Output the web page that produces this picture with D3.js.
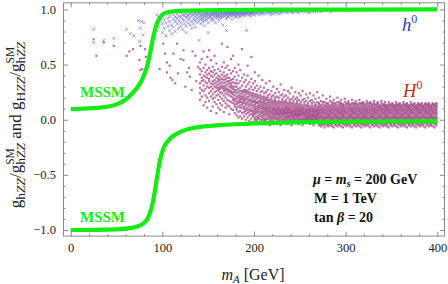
<!DOCTYPE html>
<html>
<head>
<meta charset="utf-8">
<script src="https://cdn.jsdelivr.net/npm/d3@7"></script>
<style>
  html, body { margin: 0; padding: 0; background: #fff; }
  svg { display: block; }
</style>
</head>
<body>
<svg id="chart" width="448" height="284"></svg>
<script>
/* ------------------------------------------------------------
   Data
   ------------------------------------------------------------ */
const xTicks = [0, 100, 200, 300, 400];
const xTickLabels = ['0', '100', '200', '300', '400'];
const yTicks = [-1.0, -0.5, 0.0, 0.5, 1.0];
const yTickLabels = ['\u22121.0', '\u22120.5', '0.0', '0.5', '1.0'];

// green MSSM curves
const upperCurveMA = [0, 32, 50, 61, 70, 77.5, 83, 86.5, 90, 94, 99, 105, 123, 196, 300, 400];
const upperCurveG  = [0.096, 0.109, 0.139, 0.19, 0.266, 0.357, 0.477, 0.598, 0.749, 0.87, 0.945, 0.975, 0.99, 0.997, 0.999, 1.0];
const lowerCurveMA = [0, 50, 68, 79, 84.7, 88.4, 92, 94.5, 97.4, 101, 106.5, 115.7, 130, 159, 196, 261, 330, 400];
const lowerCurveG  = [-1.0, -0.994, -0.979, -0.943, -0.883, -0.792, -0.64, -0.505, -0.369, -0.263, -0.188, -0.127, -0.082, -0.052, -0.036, -0.022, -0.016, -0.013];

// scan points. Loose ones are [mA, g]; columns are [mA, [g x 100, ...]]
const lightLoose = [[25, 0.82], [25, 0.70], [36, 0.72], [47, 0.74], [61, 0.82], [65, 0.78], [69, 0.76],
  [74, 0.90], [77, 0.89], [80, 0.88], [76, 0.83], [75, 0.71], [79, 0.77], [94, 0.95]];
const lightCols = [
  [96, [93, 84]], [98, [90]], [100, [95, 79, 87]], [102, [83, 91]], [104, [96, 76, 88]], [106, [92, 85]],
  [108, [97, 81, 89, 94]], [110, [86, 78]], [112, [98, 91, 84, 95]], [114, [89, 93, 80]], [116, [96, 87, 92, 99]],
  [118, [83, 94, 90]], [120, [97, 88, 93, 85, 98]], [122, [91, 95, 82]], [124, [99, 87, 94, 90, 96]],
  [126, [93, 85, 97, 79]], [128, [95, 91, 98, 88, 94]], [130, [96, 86, 92, 99]], [132, [94, 97, 89, 83, 98]],
  [134, [91, 95, 99, 87]], [136, [97, 93, 90, 96, 84, 98]], [138, [95, 88, 99, 92]], [140, [96, 93, 97, 72, 90, 98]],
  [142, [94, 99, 91, 87, 96]], [144, [97, 95, 92, 98, 89, 93]], [146, [99, 94, 96, 90, 85]],
  [148, [96, 98, 93, 95, 91, 97]], [150, [95, 99, 92, 88, 97, 79]], [152, [98, 94, 96, 93, 99]],
  [154, [97, 92, 95, 99, 90, 96]], [156, [94, 98, 96, 91, 97]], [158, [99, 95, 93, 97, 88, 96]],
  [160, [97, 94, 99, 92, 95, 98]], [162, [96, 98, 93, 95, 90]], [164, [99, 97, 94, 96, 92, 98]],
  [166, [95, 98, 97, 93, 99, 86]], [168, [98, 96, 94, 99, 97]], [170, [97, 99, 95, 92, 96, 81]],
  [172, [98, 96, 99, 94, 97, 93]], [174, [99, 97, 95, 98, 96]], [176, [98, 96, 99, 94, 97, 91]],
  [178, [97, 99, 95, 98, 96]], [180, [99, 98, 96, 94, 97, 93]], [182, [98, 99, 97, 95, 96]],
  [184, [99, 97, 98, 95, 93]], [186, [98, 99, 96, 97, 94]], [188, [99, 98, 97, 95, 96]],
  [190, [98, 99, 97, 96, 94]], [192, [99, 98, 96, 97, 81]], [194, [98, 99, 97, 95]], [196, [99, 98, 97, 96, 94]],
  [198, [98, 99, 96, 97]], [200, [99, 98, 97, 95]], [203, [98, 99, 96, 97]], [206, [99, 98, 97, 95]],
  [209, [98, 99, 97, 96]], [212, [99, 98, 96]], [215, [98, 99, 97]], [218, [99, 98, 97, 95]], [221, [98, 99, 96]],
  [224, [99, 98, 97]], [227, [98, 99, 96]], [230, [99, 98, 97]], [233, [98, 99]], [236, [99, 98, 97]],
  [239, [98, 99]], [242, [99, 98, 97]], [245, [98, 99]], [248, [99, 98, 97]], [252, [98, 99]], [256, [99, 98]],
  [260, [98, 99, 97]], [264, [99, 98]], [268, [99, 98]], [273, [99, 98]], [278, [99]], [284, [99, 98]],
  [290, [99]], [298, [99]], [306, [99]], [316, [99]]
];

const heavyLoose = [[25, 0.73], [28, 0.58], [36, 0.70], [47, 0.67], [61, 0.58], [64, 0.62], [68, 0.64],
  [76, 0.67], [75, 0.54], [76, 0.45], [78, 0.46], [82, 0.57], [81, 0.64],
  [97, 0.46], [101, 0.69], [103, 0.60], [105, 0.43], [105, 0.52], [108, 0.49], [109, 0.38], [111, 0.36],
  [112, 0.60], [114, 0.33], [116, 0.69], [117, 0.42], [120, 0.55], [123, 0.54], [123, 0.63], [125, 0.30],
  [127, 0.43], [129, 0.47], [130, 0.39], [132, 0.27], [133, 0.62], [136, 0.58], [137, 0.35], [139, 0.48]];
const heavyCols = [
  [141, [52, 41, 33, 24, 46, 18, 29]], [143, [38, 55, 27, 44, 21, 35]], [145, [62, 47, 31, 40, 26, 13, 36]],
  [147, [39, 50, 28, 34, 43, 22, 16]], [149, [57, 45, 33, 11, 38, 20, 41, 30]],
  [151, [63, 42, 35, 29, 24, 47, 17, 37]], [153, [54, 44, 8, 30, 26, 40, 21, 33]],
  [155, [48, 39, 32, 28, 43, 23, 35, 19, 12]], [157, [58, 45, 36, 30, 25, 41, 20, 33, 16]],
  [159, [51, 42, 34, 29, 38, 22, 26, 14, 31, 6]], [161, [37, 46, 32, 27, 40, 23, 35, 18, 29, 11]],
  [163, [44, 39, 33, 28, 36, 21, 25, 15, 30, 9]], [165, [69, 48, 41, 34, 29, 24, 37, 19, 31, 13]],
  [167, [52, 43, 36, 30, 26, 39, 22, 33, 17, 28, 7]], [169, [47, 40, 34, 29, 24, 37, 20, 31, 15, 27, 11]],
  [171, [66, 49, 41, 35, 28, 23, 32, 18, 26, 13, 38]], [173, [45, 38, 33, 27, 22, 30, 17, 25, 12, 35, 5]],
  [175, [55, 42, 36, 31, 26, 21, 29, 16, 24, 10, 33]], [177, [58, 44, 37, 30, 25, 20, 28, 15, 23, 9, 34, 18]],
  [179, [47, 39, 33, 27, 22, 30, 17, 25, 12, 19, 6, 14]], [181, [43, 36, 30, 24, 19, 27, 14, 21, 9, 16, 4, 11, 33]],
  [183, [50, 40, 33, 28, 22, 17, 25, 12, 20, 7, 15, 2]], [185, [45, 35, 29, 23, 18, 26, 13, 21, 8, 16, 3, 11, 19]],
  [187, [64, 38, 31, 26, 21, 16, 24, 11, 19, 6, 14, 1]], [189, [41, 34, 27, 22, 17, 25, 12, 20, 7, 15, 3, 10, 18]],
  [191, [36, 30, 25, 20, 15, 23, 10, 18, 5, 13, 0, 8, 27]], [193, [49, 40, 32, 26, 21, 16, 24, 11, 19, 6, 14, 2, 9]],
  [195, [34, 28, 23, 18, 14, 21, 9, 17, 4, 12, -1, 7, 25]], [197, [57, 37, 30, 24, 19, 15, 22, 10, 17, 5, 13, 1, 8]],
  [199, [33, 27, 22, 17, 13, 20, 8, 16, 4, 11, -2, 6, 24, 3]],
  [201, [43, 35, 29, 23, 18, 14, 21, 9, 16, 5, 12, 0, 7, 10, 2]], [203, [31, 26, 21, 16, 12, 19, 8, 15, 3, 10, -1, 6, 23, 1]],
  [205, [40, 28, 22, 17, 13, 20, 9, 15, 4, 11, 1, 7, 12, 2, -3]], [207, [30, 25, 20, 16, 12, 18, 7, 14, 3, 10, -2, 5, 22, 0]],
  [209, [36, 26, 21, 16, 12, 19, 8, 14, 4, 10, 0, 6, 11, 2]], [211, [29, 24, 19, 15, 11, 17, 7, 13, 3, 9, -1, 5, 21, 1]],
  [213, [33, 25, 20, 15, 11, 18, 8, 13, 4, 9, 0, 6, 10, 1, -4]], [215, [27, 22, 18, 14, 10, 16, 6, 12, 3, 8, -2, 5, 20, 1]],
  [217, [35, 23, 18, 14, 10, 16, 7, 12, 3, 8, 0, 5, 11, 2, -5]], [219, [26, 21, 17, 13, 9, 15, 6, 11, 2, 7, -1, 4, 19, 1]],
  [221, [30, 22, 17, 13, 9, 15, 6, 11, 3, 8, 0, 5, 10, 2, -3]], [223, [24, 20, 16, 12, 9, 14, 5, 10, 2, 7, -2, 4, 18, 1]],
  [225, [28, 21, 16, 12, 8, 14, 6, 10, 3, 7, 0, 5, 9, 1, -4]], [227, [25, 20, 15, 11, 8, 13, 5, 10, 2, 6, -1, 4, 17, 1]],
  [229, [32, 22, 16, 12, 8, 14, 6, 10, 3, 7, 0, 5, 9, 2, -5]], [231, [23, 19, 15, 11, 8, 13, 5, 9, 2, 6, -2, 4, 17, 0]],
  [233, [27, 21, 16, 12, 8, 14, 6, 10, 3, 7, 0, 5, 9, 1, -3]], [235, [22, 18, 14, 11, 7, 12, 5, 9, 2, 6, -1, 3, 16, 1]],
  [237, [26, 20, 15, 11, 8, 13, 6, 9, 3, 7, 0, 4, 10, 2, -4]], [239, [24, 18, 14, 10, 7, 12, 4, 9, 2, 6, -2, 3, 16, 0]],
  [241, [29, 19, 15, 11, 7, 13, 5, 9, 3, 6, 0, 4, 8, 1, -5]], [243, [21, 17, 13, 10, 7, 12, 4, 8, 2, 5, -1, 3, 15, 1]],
  [245, [25, 19, 14, 10, 7, 12, 5, 9, 3, 6, 0, 4, 8, 1, -3]], [247, [20, 17, 13, 10, 6, 11, 4, 8, 2, 5, -2, 3, 15, 0]],
  [249, [24, 18, 14, 10, 7, 12, 5, 8, 3, 6, 0, 4, 9, 1, -4]], [251, [22, 16, 12, 9, 6, 11, 4, 8, 1, 5, -1, 3, 14, 0]],
  [253, [26, 18, 13, 10, 7, 11, 5, 8, 2, 6, 0, 4, 9, 1, -5]], [255, [19, 16, 12, 9, 6, 10, 4, 7, 1, 5, -2, 3, 14, 0]],
  [257, [23, 17, 13, 9, 6, 11, 4, 8, 2, 5, 0, 3, 8, 1, -3]], [259, [20, 15, 12, 9, 6, 10, 3, 7, 1, 4, -1, 2, 13, 0]],
  [261, [24, 17, 12, 9, 6, 10, 4, 8, 2, 5, 0, 3, 8, 1, -4]], [263, [18, 15, 11, 8, 5, 10, 3, 7, 1, 4, -2, 2, 13, 0]],
  [265, [22, 16, 12, 9, 6, 10, 4, 7, 2, 5, 0, 3, 8, 1, -5]], [267, [19, 14, 11, 8, 5, 9, 3, 7, 1, 4, -1, 2, 13, 0]],
  [269, [25, 16, 12, 9, 6, 10, 4, 7, 2, 5, 0, 3, 8, 1, -3]],
  [271, [20, 15, 11, 8, 5, 3, 1, -1, -3, 12, 6, 9, -5, 14, 2]], [273, [17, 12, 9, 7, 4, 2, 0, -2, -4, 10, 6, 13, -6, 3]],
  [275, [22, 14, 10, 8, 6, 3, 1, -1, -3, 11, 5, 16, -5, 2, 8]], [277, [16, 13, 9, 6, 4, 2, 0, -2, -4, 10, 7, 12, -7, 1]],
  [279, [19, 14, 11, 8, 5, 3, 1, -1, -3, 12, 6, 9, -5, 15, 2]], [281, [15, 12, 9, 7, 4, 2, 0, -2, -4, 10, 5, 13, -6, 3]],
  [283, [21, 13, 10, 8, 5, 3, 1, -1, -3, 11, 6, 17, -5, 2, 8]], [285, [16, 12, 9, 6, 4, 2, 0, -2, -4, 10, 7, 14, -6, 1]],
  [287, [18, 14, 11, 8, 5, 3, 1, -1, -3, 12, 6, 9, -7, 15, 2]], [289, [15, 12, 9, 7, 4, 2, 0, -2, -4, 10, 5, 13, -5, 3]],
  [291, [20, 13, 10, 8, 5, 3, 1, -1, -3, 11, 6, 16, -6, 2, 8]], [293, [16, 12, 9, 6, 4, 2, 0, -2, -4, 10, 7, 14, -5, 1]],
  [295, [18, 14, 11, 8, 5, 3, 1, -1, -3, 12, 6, 9, -6, 15, 2]], [297, [14, 12, 9, 7, 4, 2, 0, -2, -4, 10, 5, 13, -7, 3]],
  [299, [19, 13, 10, 8, 5, 3, 1, -1, -3, 11, 6, 16, -5, 2, 8]], [301, [15, 12, 9, 6, 4, 2, 0, -2, -4, 10, 7, 14, -6, 1]],
  [303, [17, 14, 11, 8, 5, 3, 1, -1, -3, 12, 6, 9, -5, 15, 2]], [305, [14, 11, 9, 7, 4, 2, 0, -2, -4, 10, 5, 13, -6, 3]],
  [307, [18, 13, 10, 8, 5, 3, 1, -1, -3, 11, 6, 15, -7, 2, 8]], [309, [15, 12, 9, 6, 4, 2, 0, -2, -4, 10, 7, 14, -5, 1]],
  [311, [17, 14, 11, 8, 5, 3, 1, -1, -3, 12, 6, 9, -6, 15, 2]], [313, [14, 11, 9, 7, 4, 2, 0, -2, -4, 10, 5, 13, -5, 3]],
  [315, [18, 13, 10, 8, 5, 3, 1, -1, -3, 11, 6, 15, -6, 2, 8]], [317, [15, 12, 9, 6, 4, 2, 0, -2, -4, 10, 7, 14, -7, 1]],
  [319, [16, 14, 11, 8, 5, 3, 1, -1, -3, 12, 6, 9, -5, 15, 2]], [321, [14, 11, 9, 7, 4, 2, 0, -2, -4, 10, 5, 13, -6, 3]],
  [323, [17, 13, 10, 8, 5, 3, 1, -1, -3, 11, 6, 15, -5, 2, 8]], [325, [15, 12, 9, 6, 4, 2, 0, -2, -4, 10, 7, 13, -6, 1]],
  [327, [16, 14, 11, 8, 5, 3, 1, -1, -3, 12, 6, 9, -7, 15, 2]], [329, [14, 11, 9, 7, 4, 2, 0, -2, -4, 10, 5, 13, -5, 3]],
  [331, [17, 13, 10, 8, 5, 3, 1, -1, -3, 11, 6, 15, -6, 2, 8]], [333, [14, 12, 9, 6, 4, 2, 0, -2, -4, 10, 7, 13, -5, 1]],
  [335, [16, 14, 11, 8, 5, 3, 1, -1, -3, 12, 6, 9, -6, 15, 2]], [337, [13, 11, 9, 7, 4, 2, 0, -2, -4, 10, 5, 12, -7, 3]],
  [339, [17, 13, 10, 8, 5, 3, 1, -1, -3, 11, 6, 15, -5, 2, 8]], [341, [14, 12, 9, 6, 4, 2, 0, -2, -4, 10, 7, 13, -6, 1]],
  [343, [16, 13, 11, 8, 5, 3, 1, -1, -3, 12, 6, 9, -5, 14, 2]], [345, [13, 11, 9, 7, 4, 2, 0, -2, -4, 10, 5, 12, -6, 3]],
  [347, [16, 13, 10, 8, 5, 3, 1, -1, -3, 11, 6, 14, -7, 2, 8]], [349, [14, 12, 9, 6, 4, 2, 0, -2, -4, 10, 7, 13, -5, 1]],
  [351, [15, 13, 11, 8, 5, 3, 1, -1, -3, 12, 6, 9, -6, 14, 2]], [353, [13, 11, 9, 7, 4, 2, 0, -2, -4, 10, 5, 12, -5, 3]],
  [355, [16, 13, 10, 8, 5, 3, 1, -1, -3, 11, 6, 14, -6, 2, 8]], [357, [14, 12, 9, 6, 4, 2, 0, -2, -4, 10, 7, 13, -7, 1]],
  [359, [15, 13, 11, 8, 5, 3, 1, -1, -3, 12, 6, 9, -5, 14, 2]], [361, [13, 11, 9, 7, 4, 2, 0, -2, -4, 10, 5, 12, -6, 3]],
  [363, [16, 13, 10, 8, 5, 3, 1, -1, -3, 11, 6, 14, -5, 2, 8]], [365, [14, 12, 9, 6, 4, 2, 0, -2, -4, 10, 7, 13, -6, 1]],
  [367, [15, 12, 11, 8, 5, 3, 1, -1, -3, 12, 6, 9, -7, 14, 2]], [369, [13, 11, 9, 7, 4, 2, 0, -2, -4, 10, 5, 12, -5, 3]],
  [371, [16, 13, 10, 8, 5, 3, 1, -1, -3, 11, 6, 14, -6, 2, 8]], [373, [14, 12, 9, 6, 4, 2, 0, -2, -4, 10, 7, 13, -5, 1]],
  [375, [15, 12, 11, 8, 5, 3, 1, -1, -3, 12, 6, 9, -6, 14, 2]], [377, [13, 11, 9, 7, 4, 2, 0, -2, -4, 10, 5, 12, -7, 3]],
  [379, [15, 13, 10, 8, 5, 3, 1, -1, -3, 11, 6, 14, -5, 2, 8]], [381, [14, 12, 9, 6, 4, 2, 0, -2, -4, 10, 7, 13, -6, 1]],
  [383, [15, 12, 11, 8, 5, 3, 1, -1, -3, 12, 6, 9, -5, 14, 2]], [385, [13, 11, 9, 7, 4, 2, 0, -2, -4, 10, 5, 12, -6, 3]],
  [387, [15, 13, 10, 8, 5, 3, 1, -1, -3, 11, 6, 14, -7, 2, 8]], [389, [14, 12, 9, 6, 4, 2, 0, -2, -4, 10, 7, 13, -5, 1]],
  [391, [15, 12, 11, 8, 5, 3, 1, -1, -3, 12, 6, 9, -6, 14, 2]], [393, [13, 11, 9, 7, 4, 2, 0, -2, -4, 10, 5, 12, -5, 3]],
  [395, [15, 13, 10, 8, 5, 3, 1, -1, -3, 11, 6, 14, -6, 2, 8]], [397, [14, 12, 9, 6, 4, 2, 0, -2, -4, 10, 7, 13, -7, 1]],
  [399, [15, 12, 11, 8, 5, 3, 1, -1, -3, 12, 6, 9, -5, 14, 2]]
];

/* ------------------------------------------------------------
   Layout
   ------------------------------------------------------------ */
const SERIF = '"Liberation Serif", "Times New Roman", "DejaVu Serif", serif';
const GREEN = '#12ee12';
const FRAME = '#8a8a8a';
const frame = { left: 63, right: 445, top: 2.3, bottom: 236.6 };

const svg = d3.select('#chart');

const x = d3.scaleLinear().domain([-8.4, 408.4]).range([frame.left, frame.right]);
const y = d3.scaleLinear().domain([-1.06, 1.065]).range([frame.bottom, frame.top]);

// columns hold g in hundredths
const flatten = cols => cols.flatMap(([m, gs]) => gs.map(g => [m, g / 100]));
const lightPts = lightLoose.concat(flatten(lightCols));
const heavyPts = heavyLoose.concat(flatten(heavyCols));

svg.append('clipPath').attr('id', 'plotClip')
    .append('rect')
    .attr('x', frame.left).attr('y', frame.top)
    .attr('width', frame.right - frame.left)
    .attr('height', frame.bottom - frame.top);

const plot = svg.append('g').attr('clip-path', 'url(#plotClip)');

// h0 crosses
plot.append('g')
    .selectAll('path')
    .data(lightPts)
    .enter()
    .append('path')
    .attr('d', d => {
        const cx = x(d[0]), cy = y(d[1]), r = 1.6;
        return `M${cx - r},${cy - r}L${cx + r},${cy + r}M${cx - r},${cy + r}L${cx + r},${cy - r}`;
    })
    .attr('stroke', '#6a6ad0')
    .attr('stroke-width', 0.9)
    .attr('stroke-opacity', 0.65)
    .attr('fill', 'none');

// H0 dots
plot.append('g')
    .selectAll('rect')
    .data(heavyPts)
    .enter()
    .append('rect')
    .attr('x', d => x(d[0]) - 1.1)
    .attr('y', d => y(d[1]) - 1.1)
    .attr('width', 2.2)
    .attr('height', 2.2)
    .attr('fill', '#a8508c')
    .attr('fill-opacity', 0.8);

// MSSM curves
const line = d3.line()
    .x(d => x(d[0]))
    .y(d => y(d[1]))
    .curve(d3.curveMonotoneX);

[[upperCurveMA, upperCurveG], [lowerCurveMA, lowerCurveG]].forEach(([ms, gs]) => {
    plot.append('path')
        .datum(ms.map((m, i) => [m, gs[i]]))
        .attr('d', line)
        .attr('fill', 'none')
        .attr('stroke', GREEN)
        .attr('stroke-width', 4.2);
});

// frame + ticks on all four sides (ticks point inward)
svg.append('rect')
    .attr('x', frame.left + 0.5).attr('y', frame.top + 0.5)
    .attr('width', frame.right - frame.left - 1)
    .attr('height', frame.bottom - frame.top - 1)
    .attr('fill', 'none')
    .attr('stroke', FRAME);

const xMinor = d3.range(0, 401, 20).filter(v => v % 100 !== 0);
const yMinor = d3.range(-10, 11).filter(i => i % 5 !== 0).map(i => i / 10);

function styleAxis(g) {
    g.attr('font-family', SERIF).attr('font-size', 12.5);
    g.select('.domain').remove();
    g.selectAll('.tick line').attr('stroke', FRAME);
    g.selectAll('.tick text').attr('fill', '#222');
}

function addAxis(axisFn, scale, transform, major, minor, labels) {
    svg.append('g').attr('transform', transform)
        .call(axisFn(scale).tickValues(major).tickSizeInner(-5).tickSizeOuter(0).tickPadding(7)
            .tickFormat(labels ? (d, i) => labels[i] : ''))
        .call(styleAxis);
    svg.append('g').attr('transform', transform)
        .call(axisFn(scale).tickValues(minor).tickSizeInner(-2.5).tickSizeOuter(0).tickFormat(''))
        .call(styleAxis);
}

addAxis(d3.axisBottom, x, `translate(0,${frame.bottom})`, xTicks, xMinor, xTickLabels);
addAxis(d3.axisTop, x, `translate(0,${frame.top})`, xTicks, xMinor, null);
addAxis(d3.axisLeft, y, `translate(${frame.left},0)`, yTicks, yMinor, yTickLabels);
addAxis(d3.axisRight, y, `translate(${frame.right},0)`, yTicks, yMinor, null);

// x title: m_A [GeV]
const xTitle = svg.append('text')
    .attr('x', 253).attr('y', 280)
    .attr('text-anchor', 'middle')
    .attr('font-family', SERIF)
    .attr('font-size', 16)
    .attr('fill', '#222');
xTitle.append('tspan').attr('font-style', 'italic').text('m');
xTitle.append('tspan').attr('font-style', 'italic').attr('font-size', 11).attr('dy', 3).text('A');
xTitle.append('tspan').attr('dy', -3).text('\u00a0[GeV]');

// y title built from measured pieces, then rotated
const yTitle = svg.append('g').attr('font-family', SERIF).attr('fill', '#222');
const yInner = yTitle.append('g');
const MAIN = 17, SUB = 13.5, SUP = 11.5;
const hZZ = [{ t: 'h' }, { t: 'ZZ', it: true }];
const HZZ = [{ t: 'H' }, { t: 'ZZ', it: true }];
const pieces = [
    { runs: [{ t: 'g' }], size: MAIN, shift: 0 },
    { runs: hZZ, size: SUB, shift: 4 },
    { runs: [{ t: '/' }], size: MAIN, shift: 0 },
    { runs: [{ t: 'g' }], size: MAIN, shift: 0 },
    { runs: [{ t: 'SM' }], size: SUP, shift: -7.5 },
    { runs: hZZ, size: SUB, shift: 4, stack: true },
    { runs: [{ t: '\u00a0and\u00a0' }], size: MAIN, shift: 0 },
    { runs: [{ t: 'g' }], size: MAIN, shift: 0 },
    { runs: HZZ, size: SUB, shift: 4 },
    { runs: [{ t: '/' }], size: MAIN, shift: 0 },
    { runs: [{ t: 'g' }], size: MAIN, shift: 0 },
    { runs: [{ t: 'SM' }], size: SUP, shift: -7.5 },
    { runs: hZZ, size: SUB, shift: 4, stack: true }
];
let cursor = 0, prevX = 0, prevW = 0;
pieces.forEach(p => {
    const t = yInner.append('text').attr('y', p.shift).attr('font-size', p.size);
    p.runs.forEach(r => t.append('tspan').attr('font-style', r.it ? 'italic' : 'normal').text(r.t));
    const w = t.node().getComputedTextLength();
    let px;
    if (p.stack) { px = prevX; cursor = Math.max(prevX + prevW, prevX + w); }
    else { px = cursor; cursor = px + w; }
    t.attr('x', px);
    prevX = px; prevW = w;
});
yTitle.attr('transform', `translate(21,125) rotate(-90) translate(${-cursor / 2},0)`);

// curve labels
[97, 222].forEach(by => {
    svg.append('text')
        .attr('x', 80).attr('y', by)
        .attr('font-family', SERIF)
        .attr('font-weight', 'bold')
        .attr('font-size', 15)
        .attr('fill', GREEN)
        .text('MSSM');
});

function stateLabel(txt, px, py, color) {
    const t = svg.append('text')
        .attr('x', px).attr('y', py)
        .attr('font-family', SERIF)
        .attr('font-size', 18.5)
        .attr('fill', color);
    t.append('tspan').attr('font-style', 'italic').text(txt);
    t.append('tspan').attr('font-size', 12).attr('dy', -8).text('0');
}
stateLabel('h', 402, 31, '#1f3cc8');
stateLabel('H', 403, 97, '#c4301c');

// parameter box
const notes = svg.append('g')
    .attr('font-family', SERIF)
    .attr('font-weight', 'bold')
    .attr('font-size', 14)
    .attr('fill', '#111');
const n1 = notes.append('text').attr('x', 313).attr('y', 184);
n1.append('tspan').attr('font-style', 'italic').text('\u03bc');
n1.append('tspan').text(' = ');
n1.append('tspan').attr('font-style', 'italic').text('m');
n1.append('tspan').attr('font-style', 'italic').attr('font-size', 10).attr('dy', 3).text('s');
n1.append('tspan').attr('dy', -3).text(' = 200 GeV');
notes.append('text').attr('x', 314).attr('y', 203).text('M = 1 TeV');
const n3 = notes.append('text').attr('x', 314).attr('y', 222);
n3.append('tspan').text('tan ');
n3.append('tspan').attr('font-style', 'italic').text('\u03b2');
n3.append('tspan').text(' = 20');
</script>
</body>
</html>
